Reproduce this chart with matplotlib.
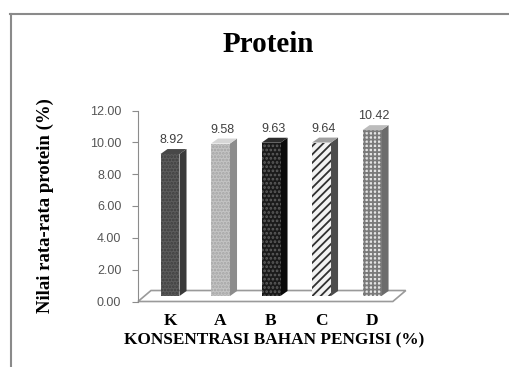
import matplotlib
matplotlib.use('Agg')
import matplotlib.pyplot as plt
from matplotlib.lines import Line2D
from matplotlib.patches import Polygon
import numpy as np

# data protein per perlakuan
kategori = ['K', 'A', 'B', 'C', 'D']
protein = [8.92, 9.58, 9.63, 9.64, 10.42]
label_nilai = ['8.92', '9.58', '9.63', '9.64', '10.42']
yticks = [0, 2, 4, 6, 8, 10, 12]

# warna muka depan / samping / atas dan pola arsiran tiap batang
muka = ['#5c5c5c', '#c4c4c4', '#1a1a1a', '#f2f2f2', '#e4e4e4']
samping = ['#3a3a3a', '#8c8c8c', '#0a0a0a', '#4c4c4c', '#6c6c6c']
atas = ['#484848', '#d6d6d6', '#2c2c2c', '#a0a0a0', '#bcbcbc']
arsir = ['.....', '.....', '....', '////', '++++']
warna_arsir = ['#3e3e3e', '#a4a4a4', '#5e5e5e', '#303030', '#7a7a7a']

plt.rcParams['hatch.linewidth'] = 1.3

fig = plt.figure(figsize=(5.09, 3.67), dpi=100)
ax = fig.add_axes([138/509, 65.5/367, 273/509, 191/367])

x = np.arange(len(kategori))
w = 0.376                      # lebar muka depan batang
fdx, fdy = 0.257, 0.69         # kedalaman lantai
hx, hy = fdx/2, fdy/2          # batang berdiri di tengah lantai
bdx, bdy = 0.139, 0.314        # kedalaman batang

# lantai 3D
x_kiri, x_kanan = -0.505, 4.54
lantai = Polygon([(x_kiri, 0), (x_kanan, 0), (x_kanan + fdx, fdy), (x_kiri + fdx, fdy)],
                 closed=True, facecolor='white', edgecolor='#9a9a9a', lw=1.2,
                 zorder=1, clip_on=False)
ax.add_patch(lantai)

bars = ax.bar(x + hx, protein, width=w, bottom=hy, color=muka, linewidth=0, zorder=3)
for b, h, c in zip(bars, arsir, warna_arsir):
    b.set_hatch(h)
    b.set_edgecolor(c)

for i, v in enumerate(protein):
    xl = x[i] + hx - w/2
    xr = x[i] + hx + w/2
    top = hy + v
    sisi = Polygon([(xr, hy), (xr, top), (xr + bdx, top + bdy), (xr + bdx, hy + bdy)],
                   closed=True, facecolor=samping[i], edgecolor='none', zorder=2)
    tutup = Polygon([(xl, top), (xr, top), (xr + bdx, top + bdy), (xl + bdx, top + bdy)],
                    closed=True, facecolor=atas[i], edgecolor='none', zorder=4)
    ax.add_patch(sisi)
    ax.add_patch(tutup)
    ax.annotate(label_nilai[i], (x[i] + hx + bdx/2 - 0.03, top + bdy), xytext=(0, 2),
                textcoords='offset points', ha='center', va='bottom',
                fontsize=9, color='#404040', family='Liberation Sans')

ax.set_xlim(-0.505, 4.90)
ax.set_ylim(0, 12)
ax.set_yticks(yticks)
ax.set_yticklabels(['%.2f' % t for t in yticks], fontsize=9, color='#555555',
                   family='Liberation Sans')
ax.set_xticks(x + hx)
ax.set_xticklabels(kategori, fontsize=12.5, fontweight='bold', family='Liberation Serif')
ax.tick_params(axis='x', length=0, pad=8)
ax.tick_params(axis='y', length=4, color='#8c8c8c', pad=8)

for s in ['top', 'right', 'bottom']:
    ax.spines[s].set_visible(False)
ax.spines['left'].set_color('#8c8c8c')
ax.patch.set_alpha(0)

fig.text(268/509, 1 - 45/367, 'Protein', ha='center', va='center', fontsize=21,
         fontweight='bold', family='Liberation Serif')
fig.text(45/509, 1 - 206/367, 'Nilai rata-rata protein (%)', rotation=90,
         ha='center', va='center', fontsize=13.5, fontweight='bold', family='Liberation Serif')
fig.text(274/509, 1 - 340/367, 'KONSENTRASI BAHAN PENGISI (%)', ha='center', va='center',
         fontsize=12.4, fontweight='bold', family='Liberation Serif')

# bingkai bagian atas dan kiri
fig.add_artist(Line2D([10/509, 1], [1 - 13.5/367, 1 - 13.5/367], color='#8a8a8a', lw=1.5))
fig.add_artist(Line2D([11/509, 11/509], [1 - 13.5/367, 0], color='#8a8a8a', lw=1.5))

fig.savefig('out.png', dpi=100)
